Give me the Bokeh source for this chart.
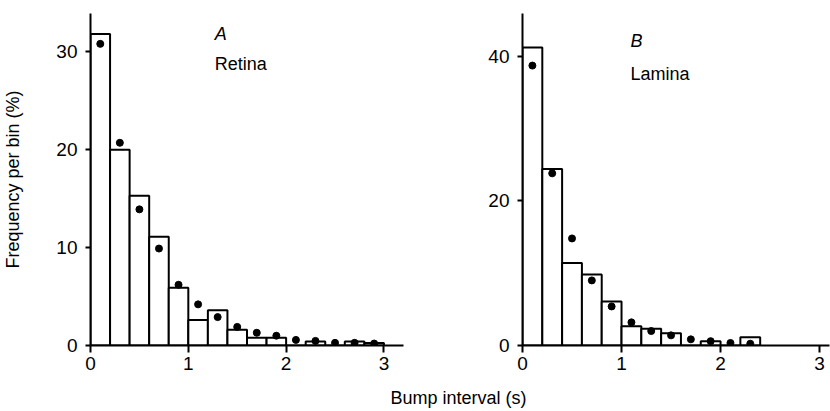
from bokeh.plotting import figure
from bokeh.layouts import row, column
from bokeh.models import FixedTicker, Label, ColumnDataSource
from bokeh.embed import file_html
from bokeh.resources import INLINE

# ---- data ----
bin_centers_a = [0.1, 0.3, 0.5, 0.7, 0.9, 1.1, 1.3, 1.5, 1.7, 1.9, 2.1, 2.3, 2.5, 2.7, 2.9]
retina_bars = [31.8, 20.0, 15.3, 11.1, 5.9, 2.6, 3.6, 1.6, 0.8, 0.8, 0.0, 0.4, 0.0, 0.4, 0.25]
retina_dots = [30.8, 20.7, 13.9, 9.9, 6.2, 4.2, 2.9, 1.9, 1.3, 1.0, 0.57, 0.47, 0.27, 0.27, 0.2]

bin_centers_b = [0.1, 0.3, 0.5, 0.7, 0.9, 1.1, 1.3, 1.5, 1.7, 1.9, 2.1, 2.3]
lamina_bars = [41.2, 24.4, 11.4, 9.8, 6.1, 2.65, 2.3, 1.7, 0.0, 0.6, 0.0, 1.15]
lamina_dots = [38.7, 23.8, 14.8, 9.0, 5.4, 3.2, 2.0, 1.4, 0.85, 0.6, 0.35, 0.25]

bin_width = 0.2
x_ticks = [0, 1, 2, 3]
y_ticks_a = [0, 10, 20, 30]
y_ticks_b = [0, 20, 40]

FONT = "Liberation Sans"
FS = "18px"
TFS = "19px"
INK = "black"


def style(p, yticks):
    p.grid.visible = False
    p.outline_line_color = None
    p.background_fill_color = "white"
    p.border_fill_color = "white"
    for ax in (p.xaxis[0], p.yaxis[0]):
        ax.axis_line_width = 2
        ax.axis_line_color = INK
        ax.major_tick_line_width = 2
        ax.major_tick_line_color = INK
        ax.minor_tick_line_color = None
        ax.major_tick_in = 0
        ax.major_label_text_font = FONT
        ax.major_label_text_font_size = TFS
        ax.major_label_text_color = INK
    p.xaxis[0].ticker = FixedTicker(ticks=x_ticks)
    p.yaxis[0].ticker = FixedTicker(ticks=yticks)
    p.xaxis[0].major_tick_out = 7
    p.xaxis[0].major_label_standoff = 4
    p.yaxis[0].major_tick_out = 5
    p.yaxis[0].major_label_standoff = 8


def panel(centers, bars, dots, yend, xend, width, height, mbl, mbr, mbt, mbb, yticks):
    p = figure(width=width, height=height, x_range=(0, xend), y_range=(0, yend),
               output_backend="svg", toolbar_location=None,
               min_border_left=mbl, min_border_right=mbr,
               min_border_top=mbt, min_border_bottom=mbb)
    src = ColumnDataSource(dict(x=centers, top=bars))
    p.vbar(x="x", top="top", bottom=0, width=bin_width, source=src,
           fill_color="white", line_color=INK, line_width=2)
    dsrc = ColumnDataSource(dict(x=centers, y=dots))
    p.scatter(x="x", y="y", source=dsrc, size=7, color=INK)
    style(p, yticks)
    return p


def label(p, x, y, text, italic=False):
    p.add_layout(Label(x=x, y=y, text=text, text_font=FONT, text_font_size=FS,
                       text_color=INK,
                       text_font_style="italic" if italic else "normal",
                       text_baseline="alphabetic"))


# panel A: frame x 88..403, y 10..345
pA = panel(bin_centers_a, retina_bars, retina_dots, 33.9, 3.2,
           442, 383, 88, 39, 10, 38, y_ticks_a)
pA.yaxis[0].axis_label = "Frequency per bin (%)"
pA.yaxis[0].axis_label_text_font = FONT
pA.yaxis[0].axis_label_text_font_size = FS
pA.yaxis[0].axis_label_text_font_style = "normal"
pA.yaxis[0].axis_label_text_color = INK
pA.yaxis[0].axis_label_standoff = 30
label(pA, 1.27, 31.8, "A", italic=True)
label(pA, 1.27, 28.75, "Retina")

# panel B: frame x 522..829, y 13..347
pB = panel(bin_centers_b, lamina_bars, lamina_dots, 45.9, 3.1,
           388, 383, 80, 1, 13, 36, y_ticks_b)
label(pB, 1.09, 42.1, "B", italic=True)
label(pB, 1.09, 37.6, "Lamina")

pX = figure(width=830, height=28, x_range=(0, 830), y_range=(0, 28),
            x_axis_type=None, y_axis_type=None, output_backend="svg",
            toolbar_location=None, min_border=0)
pX.grid.visible = False
pX.outline_line_color = None
pX.add_layout(Label(x=458, y=14, x_units="screen", y_units="screen",
                    text="Bump interval (s)", text_font=FONT, text_font_size=FS,
                    text_color=INK, text_align="center", text_baseline="middle"))

layout = column(row(pA, pB), pX)
open("out.html", "w").write(file_html(layout, INLINE))
